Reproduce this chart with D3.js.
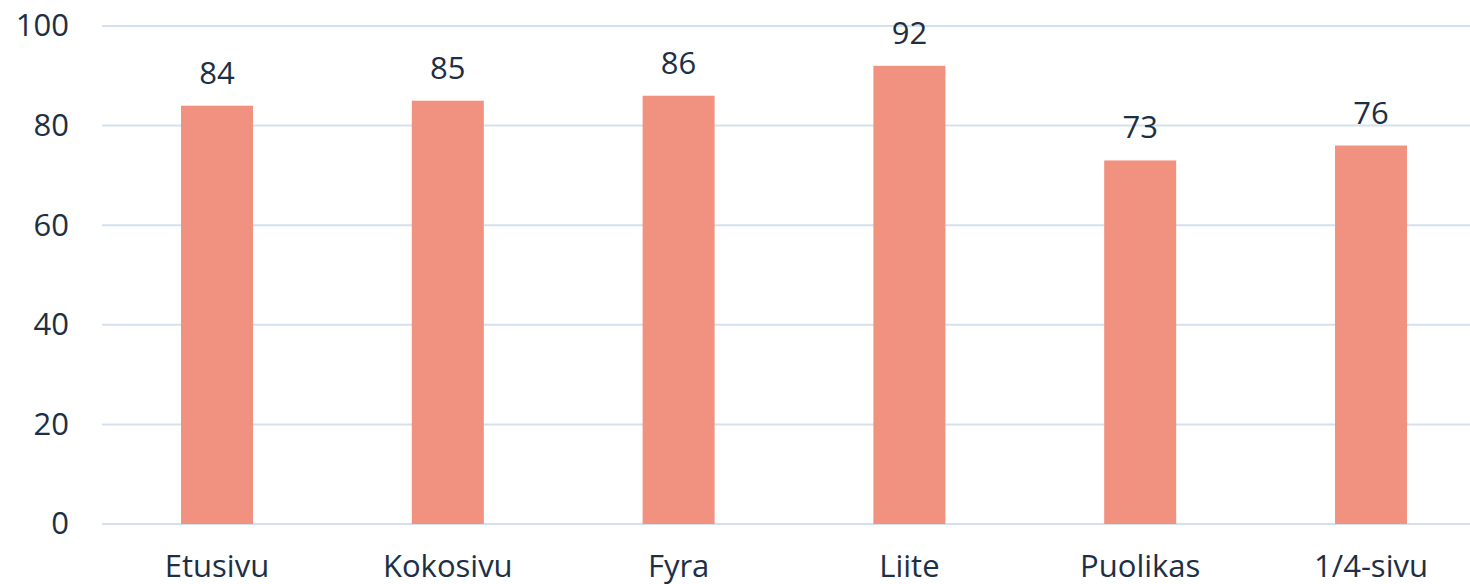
<!DOCTYPE html>
<html>
<head>
<meta charset="utf-8">
<script src="https://cdn.jsdelivr.net/npm/d3@7"></script>
<style>
  body { margin: 0; background: #fff; }
  svg { display: block; font-family: "Open Sans", Lato, sans-serif; }
</style>
</head>
<body>
<svg id="chart" width="1470" height="584"></svg>
<script>
const categories = ["Etusivu", "Kokosivu", "Fyra", "Liite", "Puolikas", "1/4-sivu"];
const values = [84, 85, 86, 92, 73, 76];
const yTicks = [0, 20, 40, 60, 80, 100];

const width = 1470;
const height = 584;
const textColor = "#1d2f45";
const fontSize = 31;

const svg = d3.select("#chart");

const xScale = d3
  .scaleBand()
  .domain(categories)
  .range([101.6, 1486.4])
  .paddingInner(0.688)
  .paddingOuter(0.344);

const yScale = d3.scaleLinear().domain([0, 100]).range([524, 26]);

// gridlines
svg
  .append("g")
  .selectAll("line")
  .data(yTicks)
  .join("line")
  .attr("x1", 102)
  .attr("x2", width)
  .attr("y1", (d) => yScale(d))
  .attr("y2", (d) => yScale(d))
  .attr("stroke", "#d3e1ee")
  .attr("stroke-width", 2);

// y axis labels
const yAxis = d3.axisLeft(yScale).tickValues(yTicks).tickSize(0).tickPadding(0);
svg
  .append("g")
  .attr("transform", "translate(69,0)")
  .call(yAxis)
  .call((g) => g.select(".domain").remove())
  .selectAll("text")
  .attr("font-size", fontSize)
  .attr("font-family", "'Open Sans', Lato, sans-serif")
  .attr("fill", textColor);

// bars
svg
  .append("g")
  .selectAll("rect")
  .data(values)
  .join("rect")
  .attr("x", (d, i) => xScale(categories[i]))
  .attr("y", (d) => yScale(d))
  .attr("width", xScale.bandwidth())
  .attr("height", (d) => yScale(0) - yScale(d))
  .attr("fill", "#f1917f");

// value labels
svg
  .append("g")
  .selectAll("text")
  .data(values)
  .join("text")
  .attr("x", (d, i) => xScale(categories[i]) + xScale.bandwidth() / 2)
  .attr("y", (d) => yScale(d) - 22)
  .attr("text-anchor", "middle")
  .attr("font-size", fontSize)
  .attr("fill", textColor)
  .text((d) => d);

// x axis labels
const xAxis = d3.axisBottom(xScale).tickSize(0).tickPadding(0);
svg
  .append("g")
  .attr("transform", "translate(0,555)")
  .call(xAxis)
  .call((g) => g.select(".domain").remove())
  .selectAll("text")
  .attr("font-size", fontSize)
  .attr("font-family", "'Open Sans', Lato, sans-serif")
  .attr("fill", textColor);
</script>
</body>
</html>
